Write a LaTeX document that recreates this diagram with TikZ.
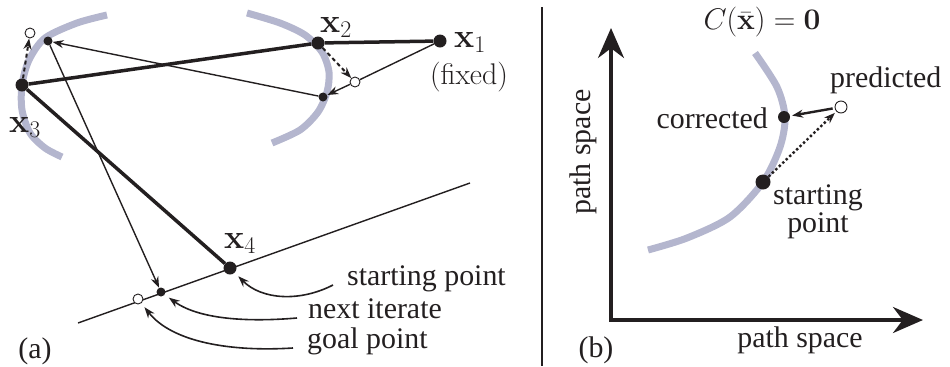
\RequirePackage{fix-cm}
\documentclass[tikz,border=0pt]{standalone}
\usepackage[no-math]{fontspec}
\setmainfont{Liberation Serif}
\DeclareMathSizes{30}{30}{21}{16}
\DeclareMathSizes{34}{34}{24}{17}
\usetikzlibrary{arrows.meta}
\definecolor{ink}{RGB}{35,31,32}
\definecolor{surfacegray}{RGB}{180,182,206}

\begin{document}
\begin{tikzpicture}[
    x=1bp, y=-1bp,
    font=\fontsize{30}{34}\selectfont,
    >={Stealth[length=11bp,width=8bp]},
    bigdot/.style={circle, fill=ink, inner sep=0pt, minimum size=13bp},
    smalldot/.style={circle, fill=ink, inner sep=0pt, minimum size=9bp},
    hollow/.style={circle, draw=ink, fill=white, line width=0.9bp,
        inner sep=0pt, minimum size=10bp},
    tag/.style={inner sep=0pt, text=ink},
    pointname/.style={tag, anchor=base west, font=\fontsize{34}{38}\selectfont},
    constraint/.style={draw=surfacegray, line width=7bp},
    chain/.style={draw=ink, line width=3.5bp},
    guide/.style={draw=ink, line width=1.4bp},
    step arrow/.style={->, draw=ink, line width=1.4bp},
    predict/.style={->, draw=ink, line width=2bp, dash pattern=on 4bp off 3bp},
    callout/.style={->, draw=ink, line width=1.6bp, shorten >=5bp},
    axis/.style={{Stealth[length=30bp,width=26bp]}-{Stealth[length=30bp,width=26bp]},
        draw=ink, line width=3.5bp}
]
\useasboundingbox (0,0) rectangle (950,366);

% ===== (a) =====
% constraint surfaces
\draw[constraint] plot[smooth] coordinates {(107,15) (77,23) (45,38) (29,60)
    (22,85) (22,110) (30,133) (45,148) (62,157)};
\draw[constraint] plot[smooth] coordinates {(247,13) (280,23) (305,35) (322,52)
    (329,72) (327,92) (318,112) (300,130) (272,143)};

% target line
\coordinate (lineL) at (78,323);
\coordinate (lineR) at (470,183);
\draw[guide] (lineL) -- (lineR);

% points
\node[bigdot] (x1) at (440,41) {};
\node[bigdot] (x2) at (318,43) {};
\node[bigdot] (x3) at (22,85) {};
\node[bigdot] (x4) at (230,268) {};
\node[hollow] (pred2) at (355,82) {};
\node[smalldot] (new2) at (323,97) {};
\node[hollow] (pred3) at (30,33) {};
\node[smalldot] (new3) at (48,41) {};
\node[smalldot] (next) at (161,292) {};
\node[hollow] (goal) at (138,299) {};

% chain
\draw[chain] (x1) -- (x2) -- (x3) -- (x4);

% iteration
\draw[guide] (x1) -- (pred2);
\draw[step arrow] (pred2) -- (new2);
\draw[step arrow] (new2) -- (new3);
\draw[step arrow] (new3) -- (next);
\draw[predict] (x2) -- (pred2);
\draw[predict] (x3) -- (pred3);

% labels
\node[pointname] (x1lbl) at (454,47) {$\mathbf{x}_1$};
\node[tag] (fixedlbl) at (469,77) {$\mathrm{(fixed)}$};
\node[pointname] (x2lbl) at (320,32) {$\mathbf{x}_2$};
\node[pointname] (x3lbl) at (9,132) {$\mathbf{x}_3$};
\node[pointname] (x4lbl) at (224,248) {$\mathbf{x}_4$};

\node[tag, anchor=base west] (startlbl) at (347,285) {starting point};
\node[tag, anchor=base west] (nextlbl) at (308,318) {next iterate};
\node[tag, anchor=base west] (goallbl) at (307,348) {goal point};

\draw[callout] ([xshift=-14bp]startlbl.base west)
    .. controls (300,302) and (262,300) .. (x4);
\draw[callout] ([xshift=-11bp]nextlbl.base west)
    .. controls (250,322) and (200,320) .. (next);
\draw[callout] ([xshift=-14bp]goallbl.base west)
    .. controls (230,352) and (172,342) .. (goal);

\node[tag] (alabel) at (35,351) {(a)};

% divider
\coordinate (divtop) at (542,7);
\coordinate (divbot) at (542,366);
\draw[ink, line width=1.5bp] (divtop) -- (divbot);

% ===== (b) =====
\coordinate (origin) at (611,320);
\coordinate (ytip) at (611,28);
\coordinate (xtip) at (923,320);
\draw[axis] (ytip) -- (origin) -- (xtip);

\draw[constraint] plot[smooth] coordinates {(755,53) (777,87) (785,117)
    (780,147) (763,182) (730,217) (687,238) (648,250)};

\node[bigdot, minimum size=15bp] (start) at (763,182) {};
\node[bigdot, minimum size=12bp] (corr) at (784,117) {};
\node[hollow, minimum size=12bp] (pred) at (841,107) {};

\draw[->, draw=ink, line width=2.4bp, shorten >=2bp, shorten <=2bp] (pred) -- (corr);
\draw[->, draw=ink, line width=2.4bp, dash pattern=on 2.4bp off 2.4bp,
    shorten >=2bp] (start) -- (pred);

\node[tag] (ctitle) at (762,22) {$C(\bar{\mathbf{x}}) = \mathbf{0}$};
\node[tag, anchor=base west] (predlbl) at (830,87) {predicted};
\node[tag, anchor=base east] (corrlbl) at (768,128) {corrected};
\node[tag, align=center, font=\fontsize{30}{28}\selectfont] (startlbl2) at (818,212) {starting\\point};
\node[tag, rotate=90] (ylbl) at (583,152) {path space};
\node[tag] (xlbl) at (800,340) {path space};
\node[tag] (blabel) at (596,350) {(b)};

\end{tikzpicture}
\end{document}
